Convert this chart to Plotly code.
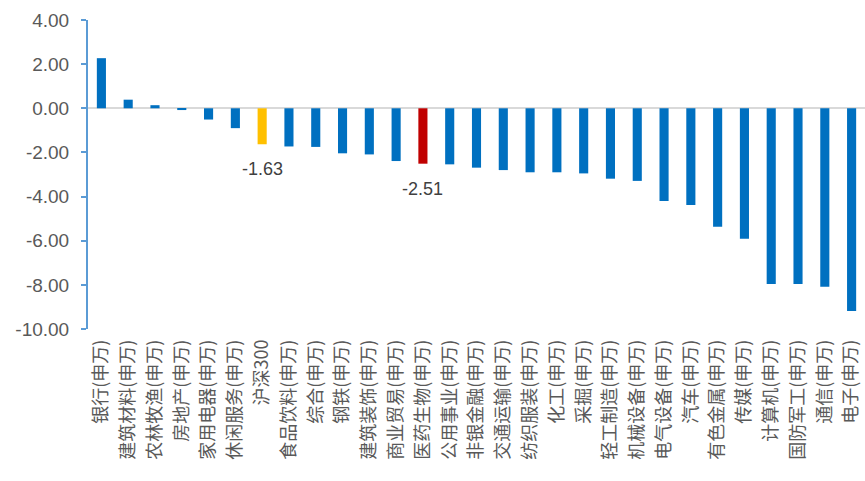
import plotly.graph_objects as go

categories = ["银行(申万)", "建筑材料(申万)", "农林牧渔(申万)", "房地产(申万)", "家用电器(申万)",
              "休闲服务(申万)", "沪深300", "食品饮料(申万)", "综合(申万)", "钢铁(申万)",
              "建筑装饰(申万)", "商业贸易(申万)", "医药生物(申万)", "公用事业(申万)", "非银金融(申万)",
              "交通运输(申万)", "纺织服装(申万)", "化工(申万)", "采掘(申万)", "轻工制造(申万)",
              "机械设备(申万)", "电气设备(申万)", "汽车(申万)", "有色金属(申万)", "传媒(申万)",
              "计算机(申万)", "国防军工(申万)", "通信(申万)", "电子(申万)"]
values = [2.27, 0.39, 0.14, -0.08, -0.51, -0.90, -1.63, -1.73, -1.75, -2.04,
          -2.09, -2.39, -2.51, -2.54, -2.69, -2.80, -2.90, -2.90, -2.95, -3.19,
          -3.29, -4.20, -4.38, -5.37, -5.91, -7.96, -7.96, -8.09, -9.19]
highlight = {"沪深300": "#FFC000", "医药生物(申万)": "#C00000"}
labeled = ["沪深300", "医药生物(申万)"]
ytick_vals = [4, 2, 0, -2, -4, -6, -8, -10]
ytick_text = [f"{v:.2f}" for v in ytick_vals]

colors = [highlight.get(c, "#0070C0") for c in categories]

fig = go.Figure()
fig.add_trace(go.Bar(x=categories, y=values, marker=dict(color=colors, line=dict(width=0)),
                     hoverinfo="x+y"))

for c in labeled:
    v = values[categories.index(c)]
    fig.add_annotation(x=c, y=v, text=f"{v:.2f}", showarrow=False, yshift=-25,
                       font=dict(size=18, color="#404040", family="Liberation Sans, Arial"))

fig.update_layout(
    width=865, height=481,
    margin=dict(l=88, r=0, t=20, b=152),
    paper_bgcolor="white", plot_bgcolor="white",
    bargap=0.66, showlegend=False,
    font=dict(family="Noto Sans CJK SC", color="#595959"),
)
fig.update_xaxes(tickangle=-90, showline=False, ticks="", showgrid=False,
                 ticklabelstandoff=6,
                 tickfont=dict(size=18, color="#595959", family="Noto Sans CJK SC"))
fig.update_yaxes(range=[-10, 4], tickvals=ytick_vals, ticktext=ytick_text,
                 showgrid=False, zeroline=True, zerolinecolor="#D9D9D9", zerolinewidth=2,
                 showline=True, linecolor="#5B9BD5", linewidth=2,
                 ticks="outside", ticklen=5, tickcolor="#5B9BD5", tickwidth=2,
                 ticklabelstandoff=8,
                 tickfont=dict(size=19, color="#595959", family="Liberation Sans, Arial"))

fig.write_html("out.html")
